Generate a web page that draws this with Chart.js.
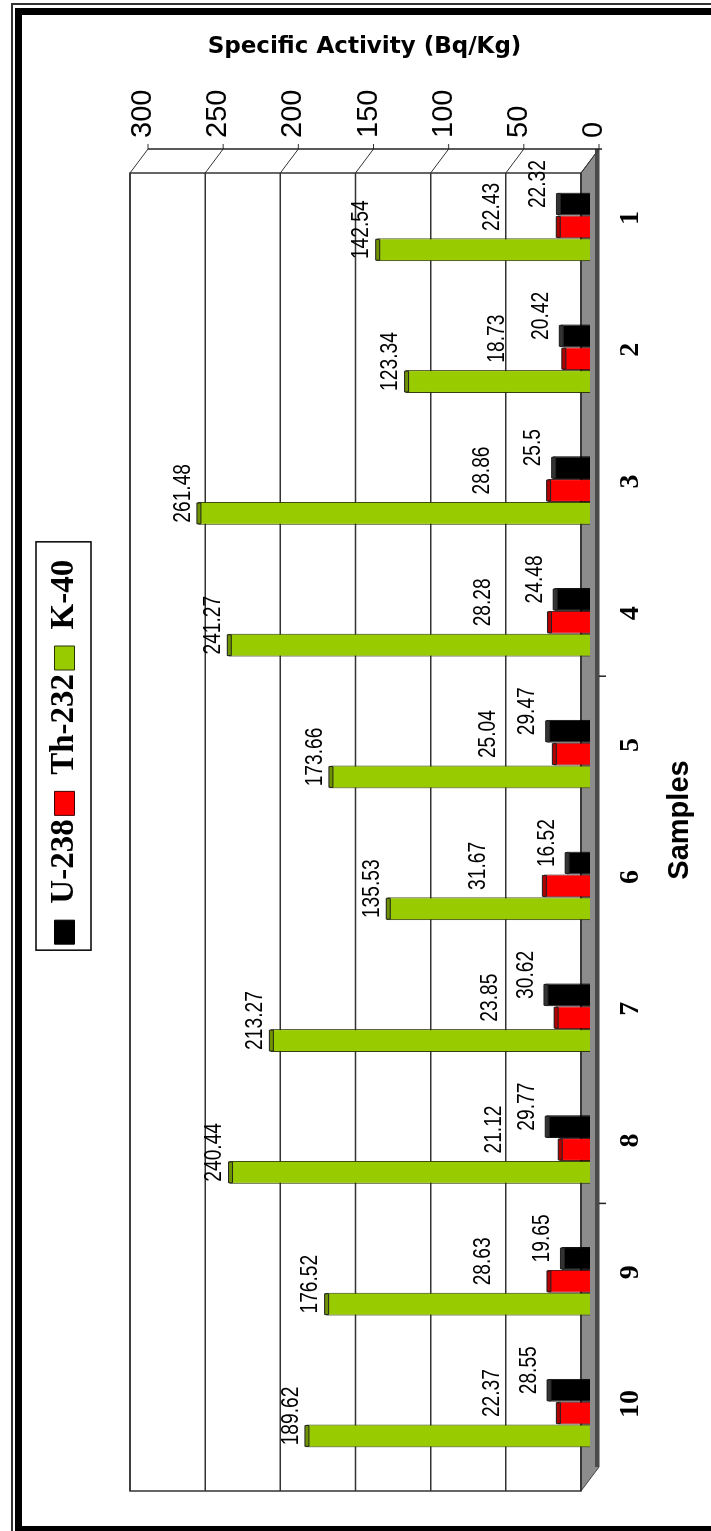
<!DOCTYPE html>
<html>
<head>
<meta charset="utf-8">
<title>Specific Activity</title>
<script src="https://cdn.jsdelivr.net/npm/chart.js@4.4.0/dist/chart.umd.min.js"></script>
<style>
  html, body { margin: 0; padding: 0; background: #fff; width: 711px; height: 1531px; overflow: hidden; }
  /* the chart is drawn lying on its side, then turned a quarter turn */
  #wrap { position: absolute; left: 0; top: 0; width: 1531px; height: 711px;
          transform-origin: 0 0; transform: translate(0, 1531px) rotate(-90deg); }
  .frame-outer { position: absolute; left: 11px; top: 3px; width: 740px; height: 1560px;
                 border-left: 2px solid #333; border-top: 2px solid #333; }
  .frame-inner { position: absolute; left: 15px; top: 8px; width: 740px; height: 1511px;
                 border: 7px solid #000; border-right: none; border-bottom-width: 5px; }
</style>
</head>
<body>
<div id="wrap"><canvas id="chart" width="1531" height="711"></canvas></div>
<div class="frame-outer"></div>
<div class="frame-inner"></div>
<script>
var samples = ['1', '2', '3', '4', '5', '6', '7', '8', '9', '10'];
var u238 = [22.32, 20.42, 25.5, 24.48, 29.47, 16.52, 30.62, 29.77, 19.65, 28.55];
var th232 = [22.43, 18.73, 28.86, 28.28, 25.04, 31.67, 23.85, 21.12, 28.63, 22.37];
var k40 = [142.54, 123.34, 261.48, 241.27, 173.66, 135.53, 213.27, 240.44, 176.52, 189.62];
var activityTicks = [0, 50, 100, 150, 200, 250, 300];

// label placement for each series: distance past the bar tip, and sideways shift
var labelShift = {
  'U-238': { along: 18, across: 20 },
  'Th-232': { along: 64, across: 20 },
  'K-40': { along: 14, across: 20 }
};
var capColor = { 'U-238': '#333333', 'Th-232': '#b00000', 'K-40': '#6f9300' };

// fake 3D: back wall sits 12/9 px behind the bars, front edge 12/9 px ahead
var DX = 12, DY = 9;

var chart3d = {
  id: 'chart3d',
  beforeInit: function (chart) {
    var fit = chart.legend.fit;
    chart.legend.fit = function () {
      fit.call(this);
      this.height = 95;
    };
  },
  beforeDatasetsDraw: function (chart) {
    var ctx = chart.ctx, a = chart.chartArea;
    var xs = chart.scales.x, ys = chart.scales.y;
    var y0 = ys.getPixelForValue(0), yTop = ys.getPixelForValue(300);
    ctx.save();

    // floor
    ctx.beginPath();
    ctx.moveTo(a.left + DX, y0 + DY);
    ctx.lineTo(a.right + DX, y0 + DY);
    ctx.lineTo(a.right - DX, y0 - DY);
    ctx.lineTo(a.left - DX, y0 - DY);
    ctx.closePath();
    ctx.fillStyle = '#8c8c8c';
    ctx.fill();
    ctx.lineWidth = 1;
    ctx.strokeStyle = '#444';
    ctx.stroke();
    ctx.fillStyle = '#4a4a4a';
    ctx.fillRect(a.left + DX, y0 + DY - 4, a.right - a.left, 4);

    // back wall with its grid
    ctx.strokeStyle = '#333';
    ctx.lineWidth = 1.5;
    ctx.strokeRect(a.left - DX, yTop - DY, a.right - a.left, y0 - yTop);
    activityTicks.forEach(function (v) {
      var y = ys.getPixelForValue(v);
      ctx.beginPath();
      ctx.moveTo(a.left - DX, y - DY);
      ctx.lineTo(a.right - DX, y - DY);
      ctx.stroke();
      // side wall connector
      ctx.beginPath();
      ctx.lineWidth = 1;
      ctx.moveTo(a.right + DX, y + DY);
      ctx.lineTo(a.right - DX, y - DY);
      ctx.stroke();
      // tick mark on the front axis
      ctx.beginPath();
      ctx.moveTo(a.right + DX, y + DY);
      ctx.lineTo(a.right + DX + 5, y + DY);
      ctx.stroke();
      ctx.lineWidth = 1.5;
    });

    // front value axis line
    ctx.beginPath();
    ctx.strokeStyle = '#222';
    ctx.lineWidth = 1.5;
    ctx.moveTo(a.right + DX, yTop + DY);
    ctx.lineTo(a.right + DX, y0 + DY + 3);
    ctx.stroke();

    // category tick marks every four samples
    [4, 8].forEach(function (i) {
      var x = (xs.getPixelForValue(i - 1) + xs.getPixelForValue(i)) / 2 + DX;
      ctx.beginPath();
      ctx.moveTo(x, y0 + DY);
      ctx.lineTo(x, y0 + DY + 7);
      ctx.stroke();
    });
    ctx.restore();
  },
  afterDatasetsDraw: function (chart) {
    var ctx = chart.ctx;
    chart.data.datasets.forEach(function (ds, di) {
      var meta = chart.getDatasetMeta(di);
      var shift = labelShift[ds.label];
      meta.data.forEach(function (bar, i) {
        var w = bar.width;
        ctx.save();
        ctx.fillStyle = capColor[ds.label];
        ctx.strokeStyle = '#222';
        ctx.lineWidth = 1;
        ctx.beginPath();
        ctx.rect(bar.x - w / 2 + 1, bar.y, w - 2, 4);
        ctx.fill();
        ctx.stroke();

        // narrow value label, like Arial Narrow
        ctx.translate(bar.x + shift.across, bar.y - shift.along);
        ctx.scale(0.8, 1);
        ctx.fillStyle = '#000';
        ctx.font = '24px "Liberation Sans", Arial, sans-serif';
        ctx.textAlign = 'center';
        ctx.textBaseline = 'middle';
        ctx.fillText(String(ds.data[i]), 0, 0);
        ctx.restore();
      });
    });
  }
};

new Chart(document.getElementById('chart').getContext('2d'), {
  type: 'bar',
  data: {
    labels: samples,
    datasets: [
      { label: 'K-40', data: k40, backgroundColor: '#99cc00', borderColor: '#2a3300' },
      { label: 'Th-232', data: th232, backgroundColor: '#ff0000', borderColor: '#3a0000' },
      { label: 'U-238', data: u238, backgroundColor: '#000000', borderColor: '#000000' }
    ]
  },
  options: {
    responsive: false,
    animation: false,
    devicePixelRatio: 1,
    datasets: {
      bar: { categoryPercentage: 0.52, barPercentage: 1, borderWidth: 1, borderRadius: 2 }
    },
    layout: { padding: { left: 52, right: 25, top: 44, bottom: 0 } },
    plugins: {
      legend: {
        position: 'top',
        reverse: true,
        labels: {
          boxWidth: 24,
          boxHeight: 20,
          padding: 4,
          color: '#000',
          font: { family: '"Liberation Serif", serif', size: 33, weight: 'bold' }
        }
      },
      tooltip: { enabled: false }
    },
    scales: {
      x: {
        reverse: true,
        offset: true,
        grid: { display: false, drawTicks: false },
        border: { display: false },
        ticks: {
          color: '#000',
          padding: 24,
          labelOffset: 9,
          maxRotation: 0,
          autoSkip: false,
          font: { family: '"Liberation Serif", serif', size: 28, weight: 'bold' }
        },
        title: {
          display: true,
          text: 'Samples',
          color: '#000',
          padding: { top: 0, bottom: 14 },
          font: { family: '"Liberation Sans", sans-serif', size: 29, weight: 'bold' }
        },
        afterFit: function (s) { s.height = 121; }
      },
      y: {
        position: 'right',
        min: 0,
        max: 300,
        afterBuildTicks: function (s) {
          s.ticks = activityTicks.map(function (v) { return { value: v }; });
        },
        grid: { display: false, drawTicks: false },
        border: { display: false },
        ticks: {
          color: '#000',
          padding: 23,
          labelOffset: 4,
          font: { family: '"Liberation Sans", sans-serif', size: 29 }
        },
        title: {
          display: true,
          text: 'Specific Activity (Bq/Kg)',
          color: '#000',
          padding: { top: 8 },
          font: { family: '"DejaVu Sans", sans-serif', size: 23, weight: 'bold' }
        },
        afterFit: function (s) { s.width = 136; }
      }
    }
  },
  plugins: [chart3d, {
    id: 'legendFrame',
    afterDraw: function (chart) {
      var boxes = chart.legend.legendHitBoxes;
      if (!boxes || !boxes.length) return;
      var left = Infinity, right = -Infinity, top = boxes[0].top, h = boxes[0].height;
      boxes.forEach(function (b) {
        left = Math.min(left, b.left);
        right = Math.max(right, b.left + b.width);
      });
      var ctx = chart.ctx;
      ctx.save();
      ctx.strokeStyle = '#000';
      ctx.lineWidth = 1.5;
      ctx.strokeRect(left - 6, top - 12, right - left + 24, h + 22);
      ctx.restore();
    }
  }]
});
</script>
</body>
</html>
